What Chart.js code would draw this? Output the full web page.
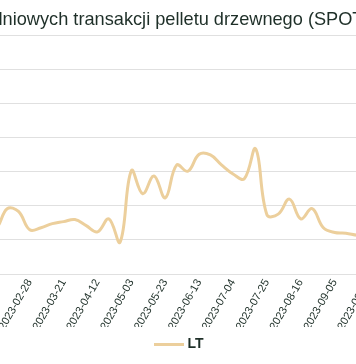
<!DOCTYPE html>
<html><head><meta charset="utf-8">
<script src="https://cdn.jsdelivr.net/npm/chart.js@4"></script>
<style>
html,body{margin:0;padding:0;background:#fff;overflow:hidden;width:356px;height:364px;}
#wrap{position:absolute;left:-63px;top:0;width:488px;height:364px;}
</style></head><body>
<div id="wrap"><canvas id="c"></canvas></div>
<script>
const titleText = 'dniowych transakcji pelletu drzewnego (SPOT)';
const seriesName = 'LT';
const dates = ['2023-01-17','2023-01-24','2023-01-31','2023-02-07','2023-02-14','2023-02-21','2023-02-28','2023-03-07','2023-03-14','2023-03-21','2023-03-28','2023-04-04','2023-04-12','2023-04-19','2023-04-26','2023-05-03','2023-05-10','2023-05-16','2023-05-23','2023-05-30','2023-06-06','2023-06-13','2023-06-20','2023-06-27','2023-07-04','2023-07-11','2023-07-18','2023-07-25','2023-08-01','2023-08-08','2023-08-16','2023-08-22','2023-08-29','2023-09-05','2023-09-12','2023-09-19','2023-09-26','2023-10-03','2023-10-10','2023-10-17','2023-10-24','2023-10-31'];
const values = [237,251,237,218,246,242,215,218,224,227,230,221,212,231,197,302,268,294,262,310,301,326,325,310,297,290,334,237,238,260,231,246,218,211,210,207,206,203,205,200,198,201];
const tickDates = ['2023-02-28','2023-03-21','2023-04-12','2023-05-03','2023-05-23','2023-06-13','2023-07-04','2023-07-25','2023-08-16','2023-09-05','2023-09-26','2023-10-17'];
const yMin = 150, yMax = 500, yStep = 50;

const textColor = '#1e2f28';
const lineColor = '#eccf9c';
const fontFamily = 'Liberation Sans, Arial, sans-serif';

// legend sample: a short line drawn as an image
const legendLine = document.createElement('canvas');
legendLine.width = 30; legendLine.height = 3;
(function(){ const g = legendLine.getContext('2d'); g.fillStyle = lineColor; g.fillRect(0, 0, 30, 3); })();

new Chart(document.getElementById('c'), {
  type: 'line',
  data: {
    labels: dates,
    datasets: [{
      label: seriesName,
      data: values,
      borderColor: lineColor,
      backgroundColor: lineColor,
      borderWidth: 3,
      pointRadius: 0,
      pointHoverRadius: 0,
      tension: 0.4,
      fill: false
    }]
  },
  options: {
    responsive: true,
    maintainAspectRatio: false,
    animation: false,
    layout: { padding: { left: 0, right: 0, top: 0, bottom: 3 } },
    plugins: {
      title: {
        display: true,
        text: titleText,
        color: textColor,
        font: { family: fontFamily, size: 18.2, weight: 'normal' },
        padding: { top: 9, bottom: 5 }
      },
      legend: {
        display: true,
        position: 'bottom',
        labels: {
          usePointStyle: true,
          pointStyle: legendLine,
          pointStyleWidth: 22,
          color: textColor,
          font: { family: fontFamily, size: 14, weight: 'bold' },
          padding: 10
        }
      },
      tooltip: { enabled: false }
    },
    scales: {
      x: {
        grid: { display: false, drawTicks: false },
        border: { display: true, color: '#e0e0e0' },
        ticks: {
          autoSkip: false,
          minRotation: 60,
          maxRotation: 60,
          padding: 3,
          color: textColor,
          font: { family: fontFamily, size: 11 },
          callback: function(v) {
            const d = this.getLabelForValue(v);
            return tickDates.includes(d) ? d : null;
          }
        },
        afterFit: function(s) { s.height = 53; }
      },
      y: {
        min: yMin, max: yMax,
        grid: { color: '#e0e0e0', drawTicks: false },
        border: { display: false },
        ticks: {
          stepSize: yStep,
          padding: 4,
          color: textColor,
          font: { family: fontFamily, size: 11 }
        },
        afterFit: function(s) { s.width = 25; }
      }
    }
  }
});
</script>
</body></html>
